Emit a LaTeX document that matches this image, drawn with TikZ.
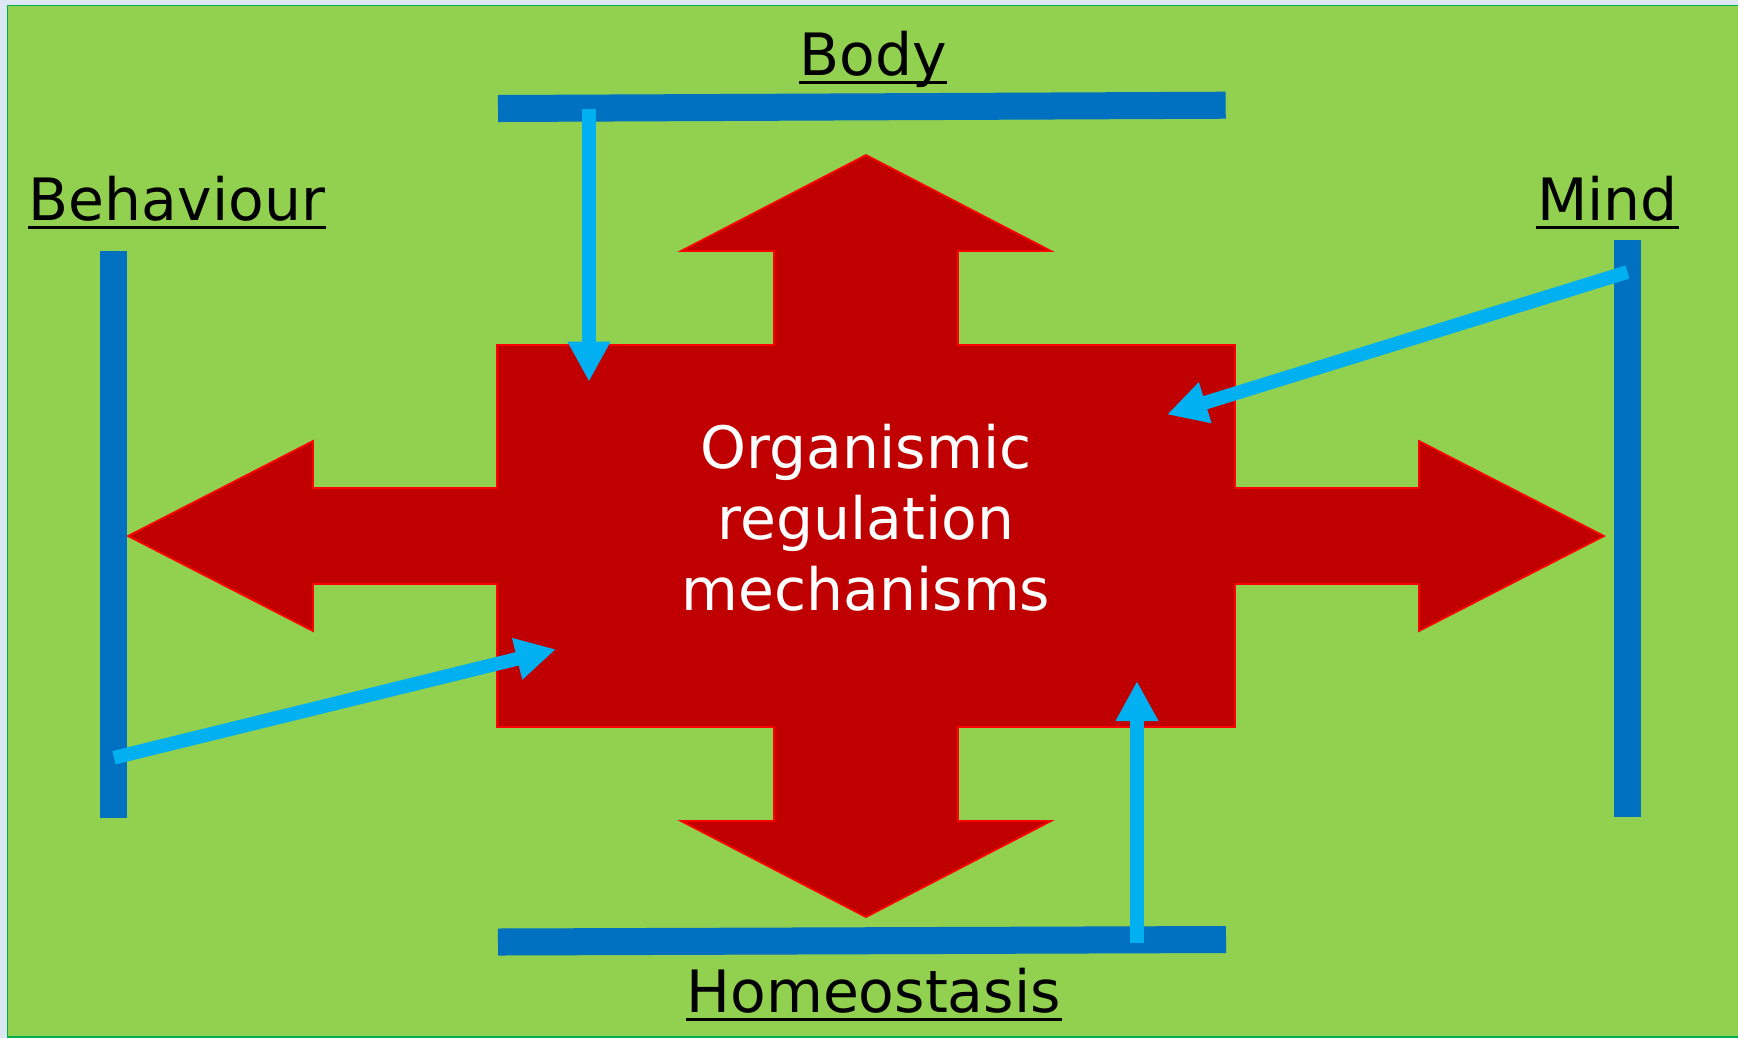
\documentclass[tikz,border=0pt]{standalone}
\usepackage{fontspec}
\setmainfont{DejaVu Sans}
\usetikzlibrary{arrows.meta,calc}

\definecolor{cpaper}{RGB}{221,231,243}
\definecolor{cgreen}{RGB}{146,208,80}
\definecolor{cframe}{RGB}{0,176,80}
\definecolor{cbar}{RGB}{0,112,192}
\definecolor{cfeed}{RGB}{0,176,240}
\definecolor{cdark}{RGB}{192,0,0}
\definecolor{cedge}{RGB}{255,0,0}

\begin{document}
\begin{tikzpicture}[x=0.01cm,y=-0.01cm,
        lab/.style={inner sep=0pt,anchor=base,font=\fontsize{16.6pt}{20.2pt}\selectfont},
        core/.style={inner sep=0pt,align=center,text=white,font=\fontsize{16.6pt}{20.2pt}\selectfont},
        uline/.style={line width=0.03cm,black},
        bar/.style={line width=0.27cm,cbar},
        feed/.style={line width=0.137cm,cfeed,-{Triangle[length=0.4cm,width=0.4cm]}},
        bigarrow/.style={fill=cdark,draw=cedge,line width=0.5pt,line join=miter}]
      \useasboundingbox (0,0) rectangle (1738,1038);
      \fill[cpaper] (0,0) rectangle (1738,1038);
      \draw[fill=cgreen,draw=cframe,line width=0.015cm] (7.5,5.7) rectangle (1745,1037);

      % regulation cross
      \draw[bigarrow,shift={(866,536)}] (0,-381) -- (185,-285) -- (92,-285) -- (92,-191)
        -- (369,-191) -- (369,-48) -- (553,-48) -- (553,-95) -- (738,0) -- (553,95)
        -- (553,48) -- (369,48) -- (369,191) -- (92,191) -- (92,285) -- (185,285)
        -- (0,381) -- (-185,285) -- (-92,285) -- (-92,191) -- (-369,191) -- (-369,48)
        -- (-553,48) -- (-553,95) -- (-738,0) -- (-553,-95) -- (-553,-48) -- (-369,-48)
        -- (-369,-191) -- (-92,-191) -- (-92,-285) -- (-185,-285) -- cycle;
      \node[core] (core) at (866,518) {Organismic\\regulation\\mechanisms};

      % bars
      \draw[bar] (498,108.5) -- (1225.7,105.2);
      \draw[bar] (498,942) -- (1226,939.5);
      \draw[bar] (113.5,251) -- (113.5,818);
      \draw[bar] (1627.5,240) -- (1627.5,817);

      \node[lab] (body) at (873,75) {Body};
      \node[lab] (behaviour) at (177,220) {Behaviour};
      \node[lab] (mind) at (1607.5,220) {Mind};
      \node[lab] (homeo) at (873.7,1012) {Homeostasis};
      \foreach \n in {body,behaviour,mind,homeo}
        \draw[uline] ($(\n.base west)+(0,7)$) -- ($(\n.base east)+(0,7)$);

      \coordinate (bodyout) at (589,109);
      \coordinate (bodyin) at (589,381.7);
      \coordinate (homeoout) at (1137,942.7);
      \coordinate (homeoin) at (1137,681);
      \coordinate (behavout) at (114,757.7);
      \coordinate (behavin) at (556,649.3);
      \coordinate (mindout) at (1627.5,272);
      \coordinate (mindin) at (1167,414.5);
      \foreach \a/\b in {bodyout/bodyin,homeoout/homeoin,behavout/behavin,mindout/mindin}
        \draw[feed] (\a) -- (\b);
    \end{tikzpicture}
\end{document}
